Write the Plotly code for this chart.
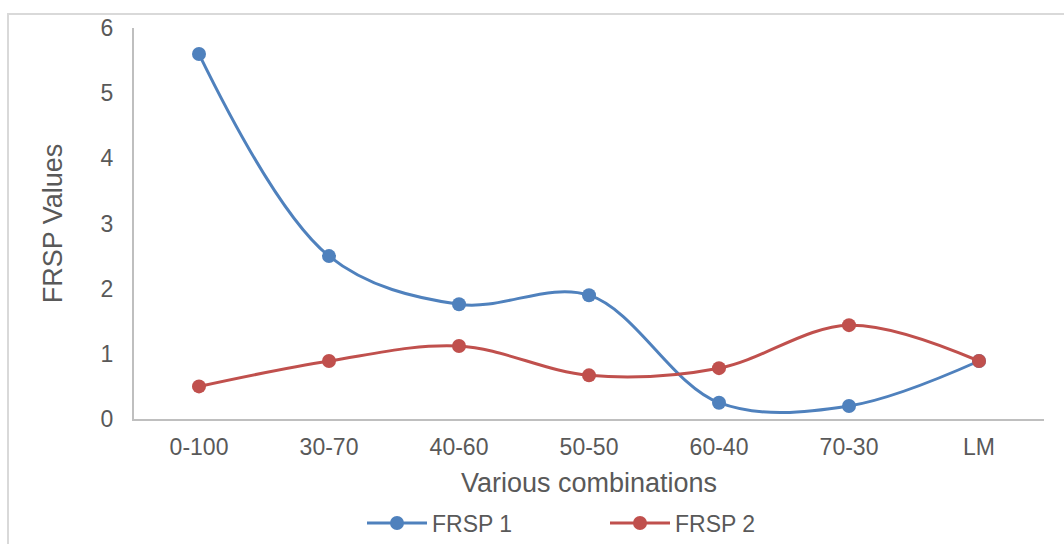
import plotly.graph_objects as go

categories = ["0-100", "30-70", "40-60", "50-50", "60-40", "70-30", "LM"]
frsp1 = [5.6, 2.5, 1.76, 1.9, 0.25, 0.2, 0.89]
frsp2 = [0.5, 0.89, 1.12, 0.67, 0.78, 1.44, 0.89]

BLUE = "#4F81BD"
RED = "#C0504D"
TXT = "#595959"
FONT = "Liberation Sans, Arial, sans-serif"

fig = go.Figure()
fig.add_trace(go.Scatter(x=categories, y=frsp1, name="FRSP 1", mode="lines+markers",
                         line=dict(color=BLUE, width=3, shape="spline", smoothing=1),
                         marker=dict(color=BLUE, size=14)))
fig.add_trace(go.Scatter(x=categories, y=frsp2, name="FRSP 2", mode="lines+markers",
                         line=dict(color=RED, width=3, shape="spline", smoothing=1),
                         marker=dict(color=RED, size=14)))

L, R, T, B = 134, 20, 28, 125
W, H = 1064, 544
pw, ph = W - L - R, H - T - B

fig.update_layout(
    width=W, height=H,
    margin=dict(l=L, r=R, t=T, b=B, autoexpand=False),
    paper_bgcolor="white", plot_bgcolor="white",
    font=dict(family=FONT, color=TXT, size=23),
    showlegend=True,
    legend=dict(orientation="h", x=(362 - L) / pw, xanchor="left", y=(H - B - 523) / ph,
                yanchor="middle", font=dict(size=23, color=TXT), itemwidth=60,
                entrywidth=168, entrywidthmode="pixels", traceorder="normal"),
    xaxis=dict(type="category", range=[-0.5, 6.5], showgrid=False, zeroline=False,
               showline=True, linecolor="#BFBFBF", linewidth=2, ticks="",
               automargin=False,
               tickfont=dict(size=23, color=TXT), ticklabelstandoff=6,
               title=dict(text="Various combinations", font=dict(size=27, color=TXT), standoff=15)),
    yaxis=dict(range=[0, 6], dtick=1, showgrid=False, zeroline=False,
               showline=True, linecolor="#BFBFBF", linewidth=2, ticks="",
               automargin=False,
               tickfont=dict(size=23, color=TXT), ticklabelstandoff=14,
               title=dict(text="FRSP Values", font=dict(size=27, color=TXT), standoff=30)),
    shapes=[dict(type="rect", xref="paper", yref="paper",
                 x0=(8 - L) / pw, x1=(W + 10 - L) / pw,
                 y0=(H - B - (H + 10)) / ph, y1=(H - B - 14) / ph,
                 line=dict(color="#D9D9D9", width=2), fillcolor="rgba(0,0,0,0)", layer="below")],
)

fig.write_html("out.html")
